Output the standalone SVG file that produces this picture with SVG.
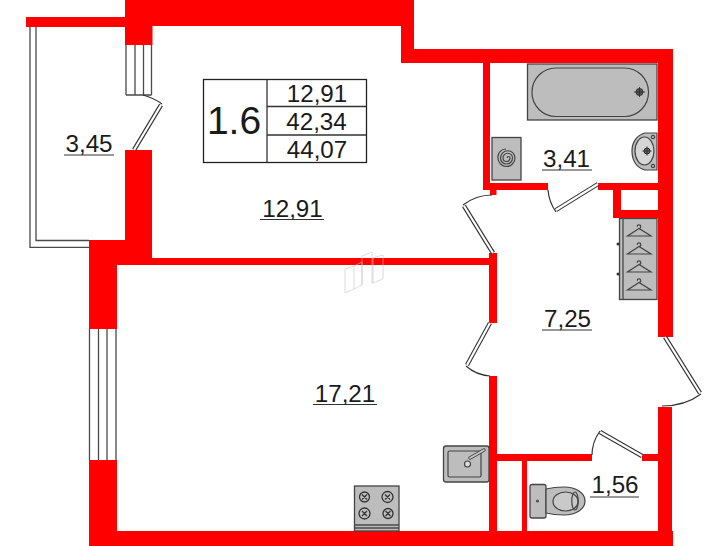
<svg xmlns="http://www.w3.org/2000/svg" width="728" height="546" viewBox="0 0 728 546">
<style>
.w{fill:#ff0000}
.l{fill:none;stroke:#4a4a4a;stroke-width:1.3}
.leaf{fill:none;stroke:#333;stroke-width:4.4}
.leaf2{fill:none;stroke:#fff;stroke-width:2.2}
.arc{fill:none;stroke:#333;stroke-width:1.2}
.g{fill:#bdbdbd;stroke:#444;stroke-width:1.3}
.t{font-family:"Liberation Sans",Arial,sans-serif;font-size:24.2px;fill:#1a1a1a;text-anchor:middle}
.u{stroke:#333;stroke-width:1.2}
.b{fill:#bdbdbd;stroke:#444;stroke-width:1.2}
.ld{fill:none;stroke:#444;stroke-width:1.2}
.wm{fill:none;stroke:#c4c4c4;stroke-width:.6}
</style>
<rect width="728" height="546" fill="#fff"/>
<g id="walls">
<rect class="w" x="125" y="0" width="289" height="26"/>
<rect class="w" x="26" y="17" width="100" height="10"/>
<rect class="w" x="125" y="0" width="27.5" height="45"/>
<rect class="w" x="125" y="150" width="27" height="115"/>
<rect class="w" x="89" y="240" width="63" height="25"/>
<rect class="w" x="89" y="240" width="28" height="89"/>
<rect class="w" x="89" y="460" width="28" height="86"/>
<rect class="w" x="89" y="531" width="584" height="15"/>
<rect class="w" x="152" y="258" width="345" height="7"/>
<rect class="w" x="401" y="20" width="13" height="43"/>
<rect class="w" x="401" y="49" width="272" height="14"/>
<rect class="w" x="658" y="49" width="15" height="288"/>
<rect class="w" x="658" y="407" width="14" height="139"/>
<rect class="w" x="483" y="63" width="7" height="127"/>
<rect class="w" x="483" y="183" width="65" height="7"/>
<rect class="w" x="490" y="190" width="6.500" height="5"/>
<rect class="w" x="598" y="183" width="60" height="7"/>
<rect class="w" x="613" y="183" width="8" height="35"/>
<rect class="w" x="613" y="210" width="45" height="8"/>
<rect class="w" x="489" y="253" width="8" height="70"/>
<rect class="w" x="489" y="376" width="8" height="155"/>
<rect class="w" x="497" y="454" width="95" height="7"/>
<rect class="w" x="642" y="454" width="16" height="7"/>
<rect class="w" x="522" y="461" width="5" height="70"/>
</g>
<g id="balcony">
<path class="l" d="M30 27V247.300H89M36 27V240.500H89"/>
</g>
<g id="windows">
<path class="l" d="M126 45V95M135 45V95M143.500 45V95M151.500 45V95M126 95H151.500"/>
<path class="l" d="M89.500 329V460M98.500 329V460M107 329V460M116 329V460"/>
</g>
<g id="doors">
<path class="leaf" d="M134 150L161 105"/><path class="leaf2" d="M134 150L161 105"/>
<path class="arc" d="M143 95Q154 98 162 104"/>
<path class="leaf" d="M598 184L556 210"/><path class="leaf2" d="M598 184L556 210"/>
<path class="arc" d="M548 190Q549 202 556 212"/>
<path class="leaf" d="M493 253L464 206"/><path class="leaf2" d="M493 253L464 206"/>
<path class="arc" d="M463 205Q476 195 492 195"/>
<path class="leaf" d="M490 323L467 365"/><path class="leaf2" d="M490 323L467 365"/>
<path class="arc" d="M466 366Q476 375 490 376"/>
<path class="leaf" d="M665 337L700 393"/><path class="leaf2" d="M665 337L700 393"/>
<path class="arc" d="M701 394Q685 406 662 406"/>
<path class="leaf" d="M642 456L600 432"/><path class="leaf2" d="M642 456L600 432"/>
<path class="arc" d="M600 431Q592 442 592 455"/>
</g>
<g id="bath">
<rect class="g" x="527.500" y="64" width="129.500" height="56"/>
<rect x="532" y="68" width="116.500" height="48.500" rx="24" ry="24" fill="none" stroke="#444" stroke-width="1.200"/>
<circle cx="639.500" cy="92" r="3.500" fill="#555" stroke="#333"/>
<path d="M634 92H645M639.500 87V97" stroke="#333" stroke-width="1"/>
</g>
<g id="washer">
<rect class="g" x="492" y="137.500" width="29" height="42.500"/>
<path class="ld" d="M507 158A1.500 1.500 0 0 1 510 158A3.500 3.500 0 0 1 503 158A4.750 4.750 0 0 1 512.500 158A6 6 0 0 1 500.500 158A7.250 7.250 0 0 1 515 158A8.500 8.500 0 0 1 498 158A8 8 0 0 1 506 149"/>
</g>
<g id="basin">
<path class="b" d="M657 133H645C637 135 632 142 632 151C632 161 637 168 645 170H657Z"/>
<ellipse cx="644.500" cy="151" rx="9.500" ry="14" fill="#d6d6d6" stroke="#444" stroke-width="1.200"/>
<circle cx="647" cy="151" r="3" fill="#666" stroke="#333"/>
<path d="M642.500 151H651.500M647 146.500V155.500" stroke="#333" stroke-width="1"/>
<circle cx="653" cy="137" r="1.800" fill="#aaa" stroke="#333"/>
<circle cx="653" cy="166" r="1.800" fill="#aaa" stroke="#333"/>
</g>
<g id="wardrobe">
<rect class="g" x="619.500" y="218.500" width="37.500" height="81"/>
<path class="l" d="M623 218.500V299.500"/>
<circle cx="618" cy="244" r="1.500" fill="#333"/>
<circle cx="618" cy="274" r="1.500" fill="#333"/>
<g id="hangers" class="ld">
<path d="M639 228.500a1.800 1.800 0 1 0 -1.800 -1.800M639 228.500L627.500 236H651Z" fill="none"/>
<path d="M639 246.500a1.800 1.800 0 1 0 -1.800 -1.800M639 246.500L627.500 254H651Z" fill="none"/>
<path d="M639 264.500a1.800 1.800 0 1 0 -1.800 -1.800M639 264.500L627.500 272H651Z" fill="none"/>
<path d="M639 282.500a1.800 1.800 0 1 0 -1.800 -1.800M639 282.500L627.500 290H651Z" fill="none"/>
</g>
</g>
<g id="kitchen-sink">
<rect class="g" x="443.500" y="446" width="45.500" height="36" rx="2.500"/>
<rect x="448" y="451" width="33" height="26" rx="1.500" fill="none" stroke="#444" stroke-width="1.200"/>
<circle cx="467.500" cy="464" r="3" fill="#ddd" stroke="#444" stroke-width="1.200"/>
<path d="M470 458L484 450" stroke="#444" stroke-width="3.400" stroke-linecap="round"/>
<path d="M470 458L484 450" stroke="#ccc" stroke-width="1.600" stroke-linecap="round"/>
</g>
<g id="stove">
<rect class="g" x="354.500" y="486" width="44.500" height="45"/>
<path class="l" d="M354.500 525H399M354.500 528H399"/>
<g fill="none" stroke="#333" stroke-width="1.300">
<circle cx="364.500" cy="497" r="5"/><circle cx="387.500" cy="497" r="5.500"/><circle cx="364.500" cy="513.500" r="5.500"/><circle cx="388" cy="513.500" r="5"/>
</g>
<path d="M362 494.500L367 499.500M367 494.500L362 499.500M385 494.500L390 499.500M390 494.500L385 499.500M362 511L367 516M367 511L362 516M385.500 511L390.500 516M390.500 511L385.500 516" stroke="#333" stroke-width="1.200"/>
</g>
<g id="toilet">
<rect class="g" x="530" y="484.500" width="16" height="33.500" rx="2"/>
<path class="b" d="M546 489Q554 487 564 487C576 487 585 493 585 501C585 509 576 515 564 515Q554 515 546 513Z"/>
<ellipse cx="565.500" cy="501.500" rx="12.500" ry="9.500" fill="#c9c9c9" stroke="#444" stroke-width="1.200"/>
<ellipse cx="575" cy="501" rx="3.200" ry="9" fill="none" stroke="#444" stroke-width="1.200"/>
<circle cx="537.500" cy="501" r="1.600" fill="#555"/>
</g>
<g id="table">
<rect x="203.500" y="79.500" width="163" height="83" fill="#fff" stroke="#222" stroke-width="1.300"/>
<path d="M267 79.500V162.500M267 106.500H366.500M267 135H366.500" stroke="#333" stroke-width="1.300"/>
<text class="t" x="234" y="134" style="font-size:39px">1.6</text>
<text class="t" x="317" y="102">12,91</text>
<text class="t" x="316.500" y="130">42,34</text>
<text class="t" x="317" y="157.500">44,07</text>
</g>
<g id="labels">
<text class="t" x="89" y="152">3,45</text><path class="u" d="M64 155H114"/>
<text class="t" x="292.500" y="216.500">12,91</text><path class="u" d="M260 219.500H324"/>
<text class="t" x="345" y="402">17,21</text><path class="u" d="M313 404.500H377"/>
<text class="t" x="566.500" y="167">3,41</text><path class="u" d="M542 170H592"/>
<text class="t" x="567.500" y="327">7,25</text><path class="u" d="M542 330H592"/>
<text class="t" x="615" y="493">1,56</text><path class="u" d="M590 497H639"/>
</g>
<g id="watermark">
<path class="wm" d="M345 269V293L354 289V266ZM354 266L362 262V285L354 289M362 256L372 252V284M362 256V285M373 258L383 255V279L373 283V258"/>
</g>
</svg>
